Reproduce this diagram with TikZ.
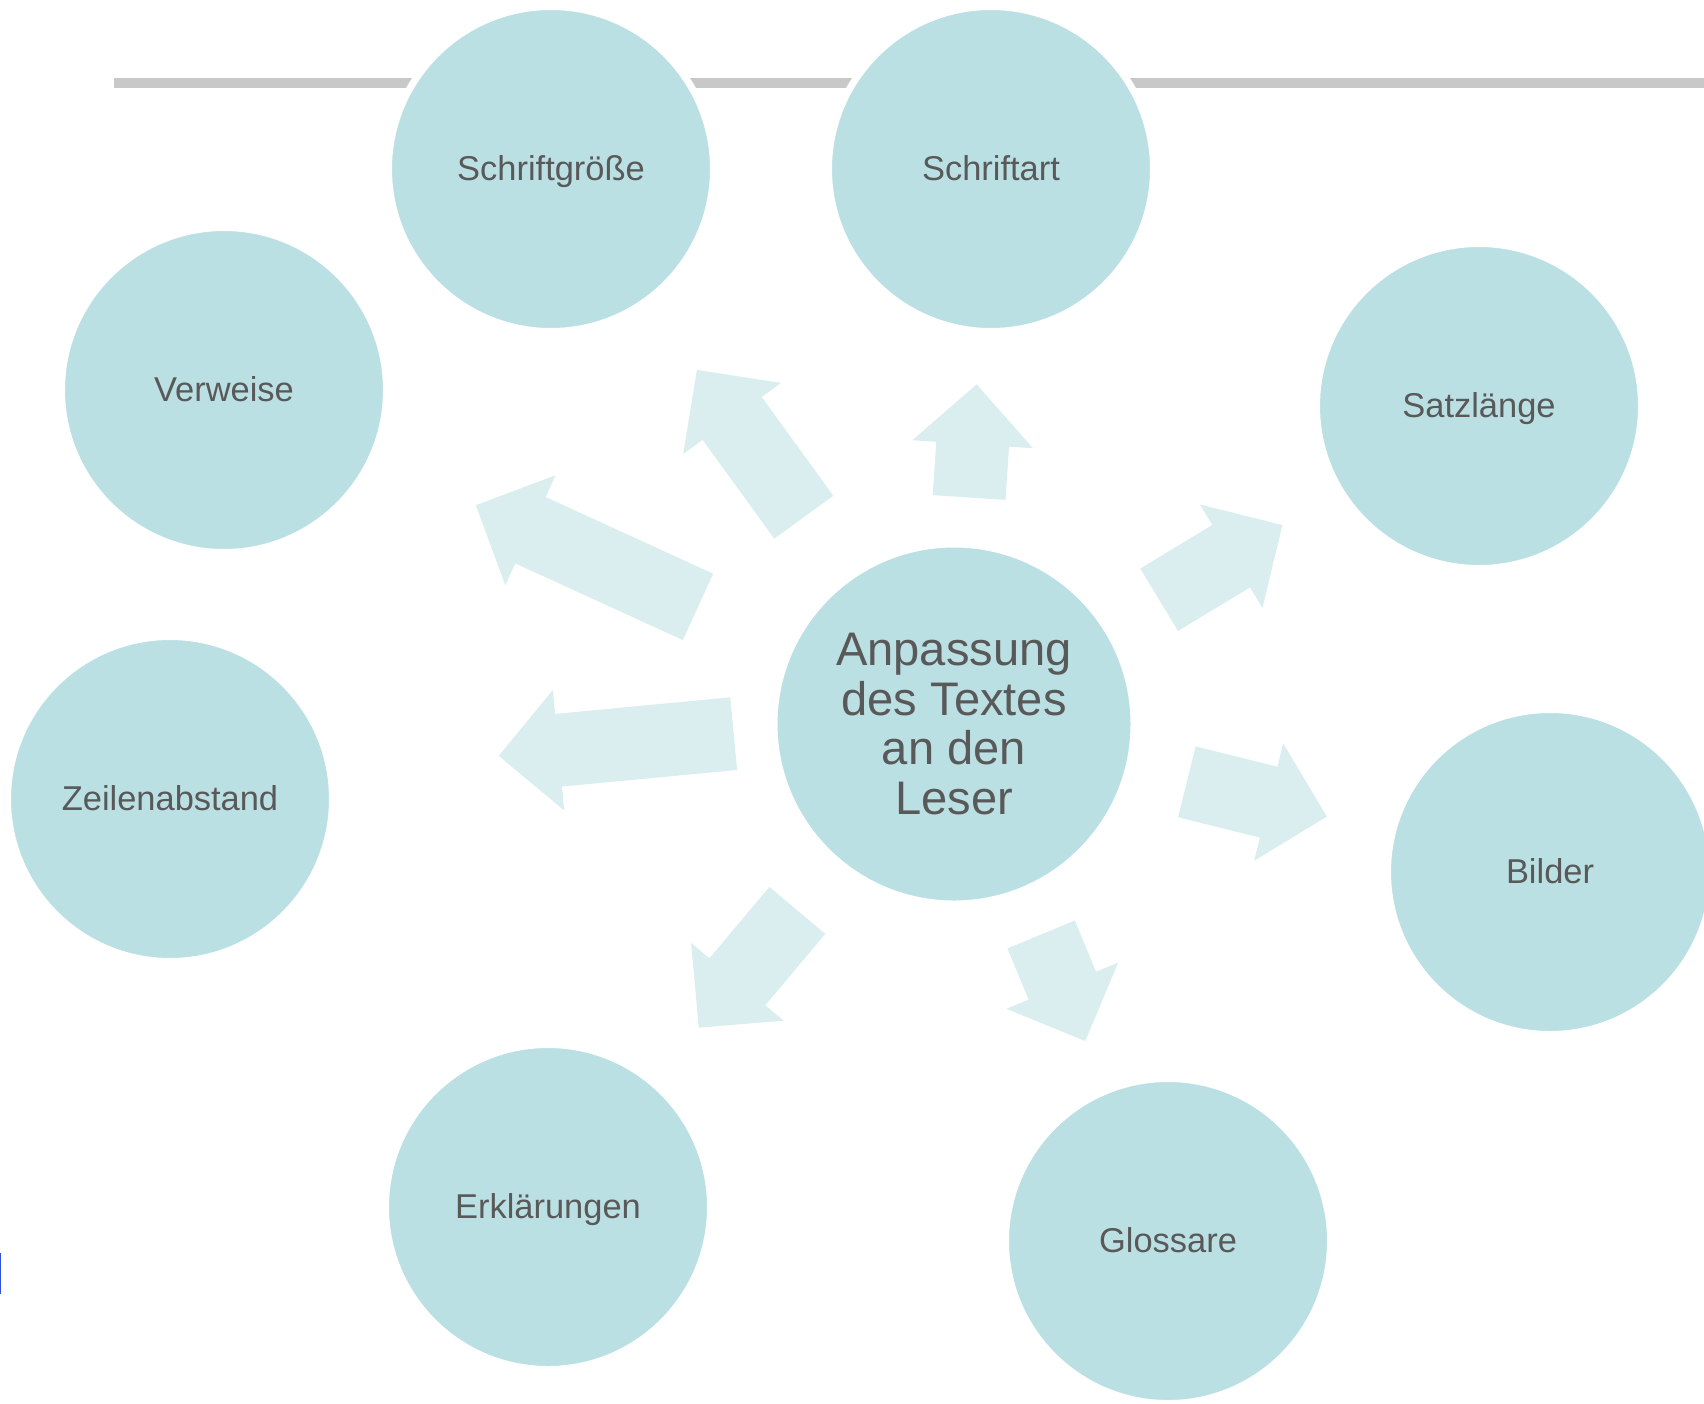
\documentclass[tikz,border=0pt]{standalone}
\usepackage{fontspec}
\setmainfont{Liberation Sans}
\usepackage{tikz}
\usetikzlibrary{positioning}
\usetikzlibrary{shapes,calc}
\definecolor{bubblefill}{RGB}{187,224,227}
\definecolor{arrowfill}{RGB}{218,237,239}
\definecolor{labelgray}{RGB}{89,89,89}
\definecolor{rulegray}{RGB}{200,200,200}
\definecolor{markblue}{RGB}{50,82,208}
\tikzset{
  disc/.style = {circle, fill=bubblefill, draw=white, line width=0.07cm,
    inner sep=0pt, align=center, text=labelgray},
  bubble/.style = {disc, minimum size=3.25cm, text height=0.67em, text depth=0pt,
    font=\fontsize{9.8pt}{11pt}\selectfont},
  hub/.style = {disc, minimum size=3.6cm,
    font=\fontsize{13.4pt}{14.2pt}\selectfont},
  topline/.style = {draw=rulegray, line width=0.1cm},
}
% block arrow on the line between two nodes: from, to, start, end
\newcommand{\blockarrow}[4]{
  \coordinate (ba-s) at ($(#1)!#3!(#2)$);
  \coordinate (ba-e) at ($(#1)!#4!(#2)$);
  \coordinate (ba-n) at ($(ba-e)!0.6cm!(ba-s)$);
  \fill[arrowfill] ($(ba-s)!0.365cm!90:(ba-e)$)
    -- ($(ba-n)!0.365cm!-90:(ba-s)$) -- ($(ba-n)!0.605cm!-90:(ba-s)$)
    -- (ba-e)
    -- ($(ba-n)!0.605cm!90:(ba-s)$) -- ($(ba-n)!0.365cm!90:(ba-s)$)
    -- ($(ba-s)!0.365cm!-90:(ba-e)$) -- cycle;
}

\begin{document}
\begin{tikzpicture}
  \useasboundingbox (0,0) rectangle (17.04,-14.03);
  % rule behind the top row
  \draw[topline] (1.14,-0.83) -- (17.04,-0.83);
  \fill[markblue] (0,-12.53) rectangle (0.015,-12.94);

  \node (mitte) [hub] at (9.54,-7.24) {Anpassung\\des Textes\\an den\\Leser};
  \node (groesse) [bubble] at (5.51,-1.69) {Schriftgröße};
  \node (art) [bubble] at (9.91,-1.69) {Schriftart};
  \node (satz) [bubble] at (14.79,-4.06) {Satzlänge};
  \node (verweise) [bubble] at (2.24,-3.90) {Verweise};
  \node (zeilen) [bubble] at (1.70,-7.99) {Zeilenabstand};
  \node (bilder) [bubble] at (15.50,-8.72) {Bilder};
  \node (erkl) [bubble] at (5.48,-12.07) {Erklärungen};
  \node (glossar) [bubble] at (11.68,-12.41) {Glossare};

  % the left arrow sits a little above the centre line
  \coordinate (mitte-l) at ($(mitte)+(0,0.112)$);
  \coordinate (zeilen-r) at ($(zeilen)+(0,0.12)$);

  \blockarrow{mitte}{verweise}{2.815cm}{5.258cm}
  \blockarrow{mitte}{groesse}{2.556cm}{4.376cm}
  \blockarrow{mitte}{art}{2.27cm}{3.404cm}
  \blockarrow{mitte}{satz}{2.398cm}{3.84cm}
  \blockarrow{mitte-l}{zeilen-r}{2.213cm}{4.573cm}
  \blockarrow{mitte}{erkl}{2.435cm}{3.967cm}
  \blockarrow{mitte}{glossar}{2.278cm}{3.432cm}
  \blockarrow{mitte}{bilder}{2.399cm}{3.842cm}
\end{tikzpicture}
\end{document}
